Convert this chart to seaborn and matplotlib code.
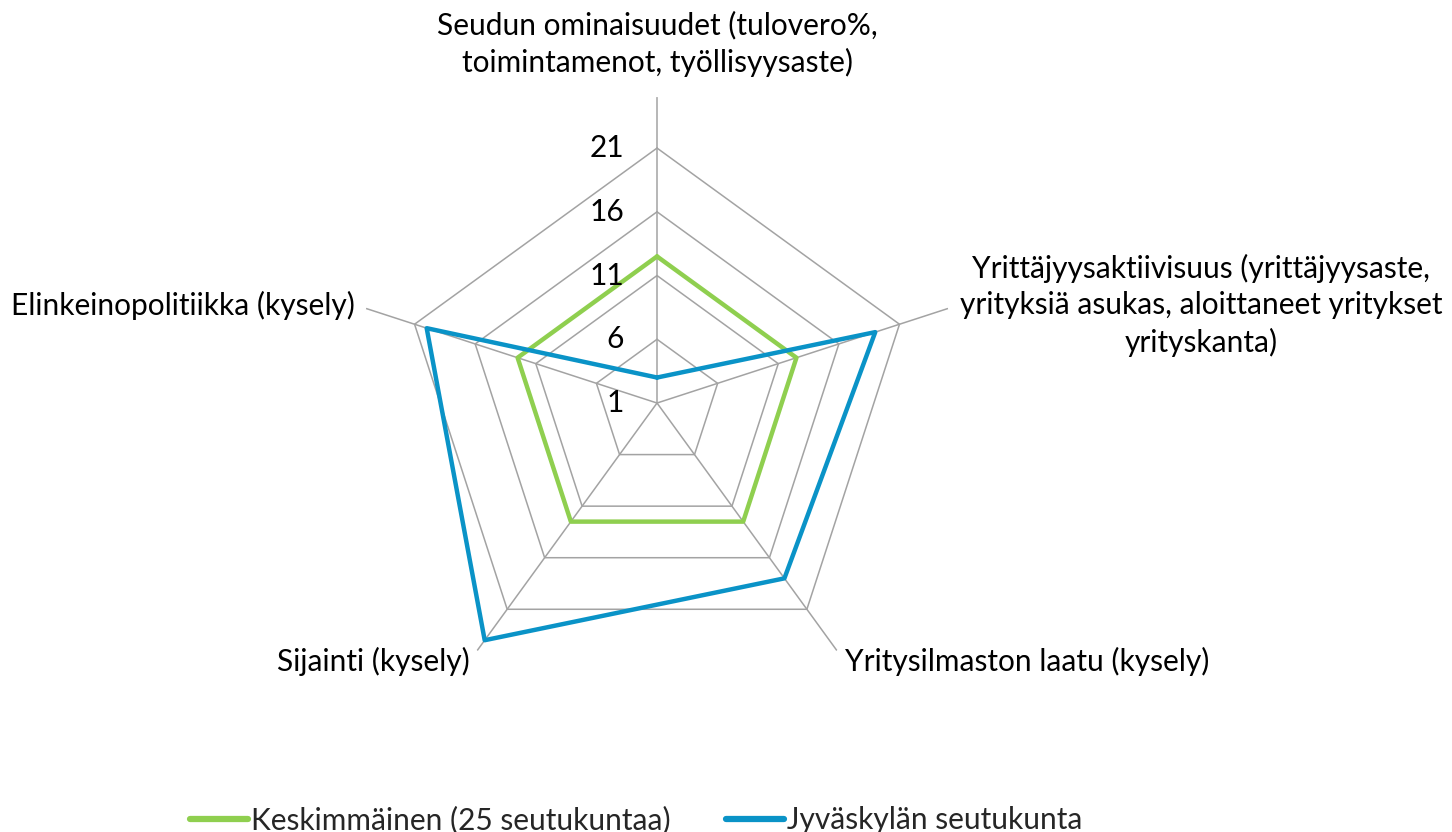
import numpy as np
import pandas as pd
import matplotlib
matplotlib.use('Agg')
import matplotlib.pyplot as plt
from matplotlib.transforms import offset_copy
import seaborn as sns

# data
categories = ['Seudun ominaisuudet (tulovero%,\ntoimintamenot, työllisyysaste)',
              'Yrittäjyysaktiivisuus (yrittäjyysaste,\nyrityksiä asukas, aloittaneet yritykset\nyrityskanta)',
              'Yritysilmaston laatu (kysely)',
              'Sijainti (kysely)',
              'Elinkeinopolitiikka (kysely)']
series_names = ['Keskimmäinen (25 seutukuntaa)', 'Jyväskylän seutukunta']
median_vals = [12.5, 12.5, 12.5, 12.5, 12.5]
jkl_vals = [3, 19, 18, 24, 20]
r_ticks = [1, 6, 11, 16, 21]
r_min, r_max = 1, 25

sns.set_theme(style='white')
plt.rcParams['font.family'] = ['Lato', 'DejaVu Sans']
fs = 21.5

n = len(categories)
angles = np.linspace(0, 2 * np.pi, n, endpoint=False)
closed = np.append(angles, 2 * np.pi)

rows = []
for name, vals in zip(series_names, [median_vals, jkl_vals]):
    v = list(vals) + [vals[0]]
    for a, val in zip(closed, v):
        rows.append({'angle': a, 'value': val, 'series': name})
df = pd.DataFrame(rows)

fig = plt.figure(figsize=(14.52, 8.32), dpi=100)
ax = fig.add_axes([0.2418, 0.1478, 0.4214, 0.7356], projection='polar')
ax.set_theta_offset(np.pi / 2)
ax.set_theta_direction(-1)
ax.set_ylim(r_min, r_max)
ax.grid(False)
ax.spines['polar'].set_visible(False)
ax.set_xticks([])
ax.set_yticks([])
ax.patch.set_alpha(0)

grid_col = '#a3a3a3'
for t in r_ticks[1:]:
    ax.plot(closed, [t] * len(closed), color=grid_col, lw=1.1, zorder=1)
for a in angles:
    ax.plot([a, a], [r_min, r_max], color=grid_col, lw=1.1, zorder=1)

palette = {series_names[0]: '#8fcf4f', series_names[1]: '#0a93c7'}
sns.lineplot(data=df, x='angle', y='value', hue='series', sort=False,
             estimator=None, palette=palette, lw=3.2, ax=ax, zorder=3,
             legend=False)
ax.set_xlabel('')
ax.set_ylabel('')

# radial tick labels
tick_tr = offset_copy(ax.transData, fig=fig, x=-33, y=0, units='dots')
for t in r_ticks:
    ax.text(0, t, str(t), transform=tick_tr, ha='right', va='center',
            fontsize=fs, color='black')

# category labels
place = [(0, 20, 'center', 'bottom'),
         (12, 3, 'left', 'center'),
         (8, -11, 'left', 'center'),
         (-7, -11, 'right', 'center'),
         (-11, 3, 'right', 'center')]
for a, lab, (dx, dy, ha, va) in zip(angles, categories, place):
    tr = offset_copy(ax.transData, fig=fig, x=dx, y=dy, units='dots')
    ax.text(a, r_max, lab, transform=tr, ha=ha, va=va, fontsize=fs,
            multialignment='center', linespacing=1.35, color='black')

handles = [plt.Line2D([], [], color=palette[s], lw=4.5, solid_capstyle='round')
           for s in series_names]
fig.legend(handles, series_names, loc='lower center', ncol=2,
           bbox_to_anchor=(0.438, -0.035), frameon=False, fontsize=fs,
           handlelength=1.95, handletextpad=0.1, columnspacing=1.85)

fig.savefig('out.png', dpi=100)
